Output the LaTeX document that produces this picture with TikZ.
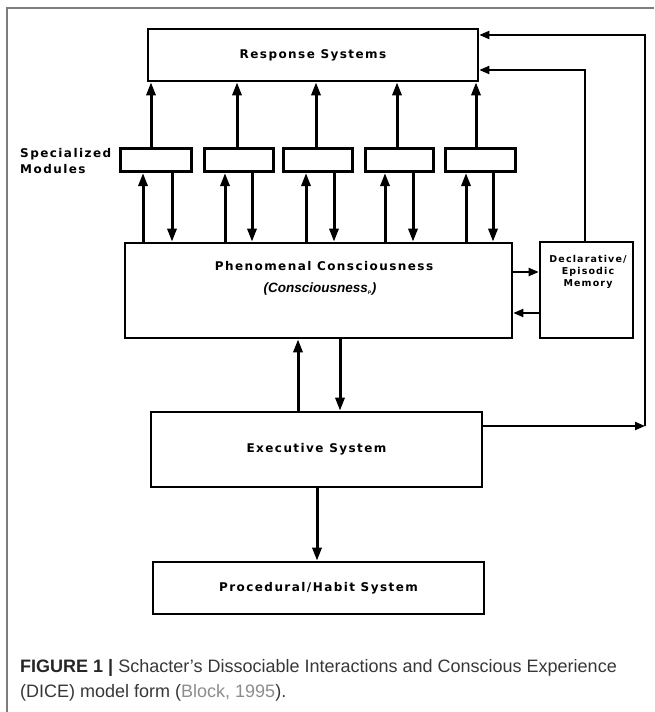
\documentclass[tikz,border=0pt]{standalone}
\usepackage{fontspec}
\usepackage{tikz}
\usetikzlibrary{arrows.meta}
\setmainfont{Liberation Sans}
\newfontfamily\plotfont[LetterSpace=12]{DejaVu Sans Bold}
\definecolor{framegray}{RGB}{125,125,125}
\definecolor{captext}{RGB}{55,55,55}
\definecolor{citegray}{RGB}{140,140,140}

\tikzset{
  sysbox/.style={draw, line width=2.6pt, inner sep=0pt, font=\plotfont\fontsize{12}{13}\selectfont},
  modbox/.style={draw, line width=3pt, minimum height=23pt, inner sep=0pt},
  arr/.style={line width=3pt, -{Triangle[length=13pt,width=9pt]}},
  thinarr/.style={line width=2pt, -{Triangle[length=10pt,width=8pt]}}
}

\begin{document}
\begin{tikzpicture}[x=1pt, y=-1pt]
\useasboundingbox (0,0) rectangle (654,712);
\draw[framegray, line width=1.5pt] (7,712) -- (7,8) -- (654,8);

% boxes
\node[sysbox, minimum width=330pt, minimum height=52pt] (rs) at (313,55) {Response Systems};
\node[sysbox, minimum width=387pt, minimum height=95pt] (pc) at (318.5,290.5) {};
\node[sysbox, minimum width=93pt, minimum height=96pt] (dm) at (586.5,290) {};
\node[sysbox, minimum width=331pt, minimum height=75pt] (ex) at (316.5,449.5) {Executive System};
\node[sysbox, minimum width=331pt, minimum height=52pt] (pr) at (318.5,588) {Procedural/Habit System};

\node[font=\plotfont\fontsize{12}{13}\selectfont] (pctxt) at (324,266) {Phenomenal Consciousness};
\node[font=\bfseries\itshape\fontsize{13.5}{15}\selectfont] (pcsub) at (320,289) {(Consciousness\textsubscript{\tiny P})};
\node[align=center, inner sep=0pt, font=\plotfont\fontsize{9.5}{12}\selectfont] (dmtxt) at (588,272) {Declarative/\\Episodic\\Memory};
\node[anchor=west, align=left, inner sep=0pt, font=\plotfont\fontsize{12}{16}\selectfont] (sptxt) at (20,161) {Specialized\\Modules};

% modules and their arrows
\foreach \i/\l/\r/\u/\d/\t in {1/120/191/143/172/151, 2/204/273/225/252/237, 3/283/352/306/334/316, 4/365/433/385/413/397, 5/445/515/466/493/476}{
  \node[modbox, minimum width=\r pt-\l pt] (m\i) at ({(\l+\r)/2},160) {};
  \draw[arr] (m\i.north -| \t,0) -- (rs.south -| \t,0);
  \draw[arr] (pc.north -| \u,0) -- (m\i.south -| \u,0);
  \draw[arr] (m\i.south -| \d,0) -- (pc.north -| \d,0);
}

% memory links
\draw[thinarr] (pc.east |- 0,272) -- (dm.west |- 0,272);
\draw[thinarr] (dm.west |- 0,313) -- (pc.east |- 0,313);
\draw[thinarr] (dm.north -| 585,0) -- (585,70) -- (rs.east |- 0,70);

% executive links
\draw[arr] (ex.north -| 298,0) -- (pc.south -| 298,0);
\draw[arr] (pc.south -| 340,0) -- (ex.north -| 340,0);
\draw[arr] (ex.south -| 317,0) -- (pr.north -| 317,0);
\coordinate (loop) at (645,426);
\draw[thinarr] (ex.east |- loop) -- (loop);
\draw[thinarr] (loop) -- (645,35) -- (rs.east |- 0,35);

% caption
\node[anchor=north west, align=left, inner sep=0pt, text=captext, font=\fontsize{18}{25}\selectfont] (cap) at (20,659)
  {{\bfseries\color{black!85}FIGURE 1 |} Schacter's Dissociable Interactions and Conscious Experience\\(DICE) model form ({\color{citegray}Block, 1995}).};
\end{tikzpicture}
\end{document}
